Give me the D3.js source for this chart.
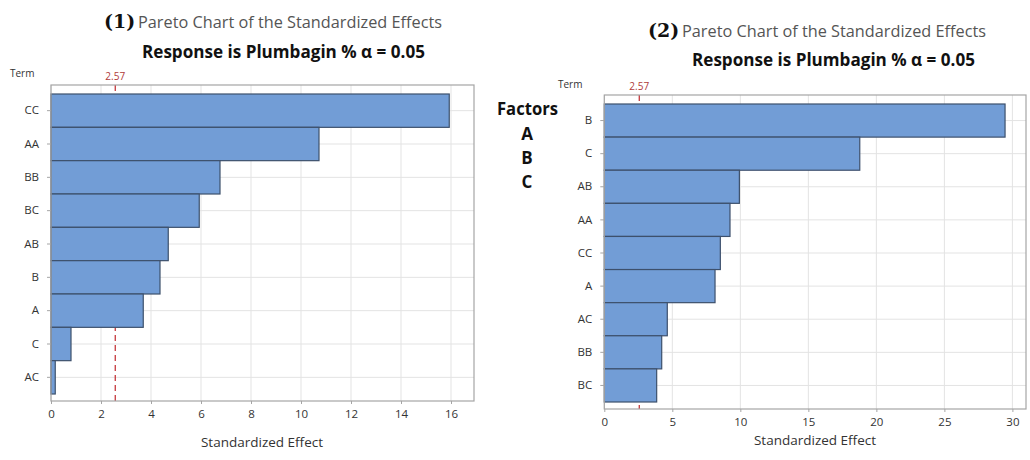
<!DOCTYPE html>
<html>
<head>
<meta charset="utf-8">
<script src="https://cdn.jsdelivr.net/npm/d3@7"></script>
<style>
  html, body { margin: 0; padding: 0; background: #fff; }
  svg { display: block; }
</style>
</head>
<body>
<svg id="chart" width="1030" height="460"></svg>
<script>
// Pareto chart (1): terms and standardized effects
const termsLeft = ["CC", "AA", "BB", "BC", "AB", "B", "A", "C", "AC"];
const effectsLeft = [15.93, 10.72, 6.76, 5.93, 4.69, 4.36, 3.69, 0.80, 0.17];
const ticksLeft = [0, 2, 4, 6, 8, 10, 12, 14, 16];

// Pareto chart (2): terms and standardized effects
const termsRight = ["B", "C", "AB", "AA", "CC", "A", "AC", "BB", "BC"];
const effectsRight = [29.46, 18.78, 9.93, 9.24, 8.53, 8.14, 4.63, 4.22, 3.85];
const ticksRight = [0, 5, 10, 15, 20, 25, 30];

// Critical t value for alpha = 0.05
const criticalValue = 2.57;
const factors = ["A", "B", "C"];

const svg = d3.select("#chart");

const BAR_FILL = "#729dd6";
const BAR_STROKE = "#3d506c";
const GRID = "#e3e3e3";
const FRAME = "#a5a5a5";
const TEXT = "#333";
const REF = "#c0282d";
const SANS = "'Open Sans', 'Noto Sans', sans-serif";

function drawPareto(opt) {
  const g = svg.append("g");
  const x = d3.scaleLinear().domain([0, opt.xMax]).range([opt.left, opt.right]);
  const y = d3.scaleBand().domain(opt.terms).range([opt.barTop, opt.barBottom]).padding(0);

  // vertical grid lines
  g.append("g").selectAll("line").data(opt.ticks).join("line")
    .attr("x1", d => x(d)).attr("x2", d => x(d))
    .attr("y1", opt.top).attr("y2", opt.bottom)
    .attr("stroke", GRID).attr("stroke-width", 1);

  // horizontal grid lines at each term
  g.append("g").selectAll("line").data(opt.terms).join("line")
    .attr("x1", opt.left).attr("x2", opt.right)
    .attr("y1", d => y(d) + y.bandwidth() / 2).attr("y2", d => y(d) + y.bandwidth() / 2)
    .attr("stroke", GRID).attr("stroke-width", 1);

  // reference line at the critical value
  g.append("line")
    .attr("x1", x(criticalValue)).attr("x2", x(criticalValue))
    .attr("y1", opt.top).attr("y2", opt.bottom)
    .attr("stroke", REF).attr("stroke-width", 1.2)
    .attr("stroke-dasharray", "6,4");

  // bars
  const rows = opt.terms.map((t, i) => ({ term: t, value: opt.values[i] }));
  g.append("g").selectAll("rect").data(rows).join("rect")
    .attr("x", x(0))
    .attr("y", d => y(d.term))
    .attr("width", d => x(d.value) - x(0))
    .attr("height", y.bandwidth())
    .attr("fill", BAR_FILL)
    .attr("stroke", BAR_STROKE)
    .attr("stroke-width", 1.2);

  // frame
  g.append("rect")
    .attr("x", opt.left).attr("y", opt.top)
    .attr("width", opt.right - opt.left).attr("height", opt.bottom - opt.top)
    .attr("fill", "none").attr("stroke", FRAME).attr("stroke-width", 1.2);

  // x axis
  const xAxis = g.append("g")
    .attr("transform", `translate(0,${opt.bottom})`)
    .call(d3.axisBottom(x).tickValues(opt.ticks).tickSize(3).tickPadding(6));
  xAxis.select(".domain").remove();
  xAxis.selectAll(".tick line").attr("stroke", FRAME);
  xAxis.selectAll("text")
    .attr("font-family", SANS).attr("font-size", 11.5).attr("fill", TEXT);

  // y axis
  const yAxis = g.append("g")
    .attr("transform", `translate(${opt.left},0)`)
    .call(d3.axisLeft(y).tickSize(4).tickPadding(8));
  yAxis.select(".domain").remove();
  yAxis.selectAll(".tick line").attr("stroke", FRAME);
  yAxis.selectAll("text")
    .attr("font-family", SANS).attr("font-size", 11.5).attr("fill", TEXT);

  // critical value label
  g.append("text")
    .attr("x", x(criticalValue)).attr("y", opt.top - 5)
    .attr("text-anchor", "middle")
    .attr("font-family", SANS).attr("font-size", 10).attr("fill", "#b03a3a")
    .text(criticalValue.toFixed(2));

  // "Term" label
  g.append("text")
    .attr("x", opt.termX).attr("y", opt.termY)
    .attr("font-family", SANS).attr("font-size", 10).attr("fill", TEXT)
    .text("Term");

  // x axis title
  g.append("text")
    .attr("x", opt.xTitleX).attr("y", opt.xTitleY)
    .attr("text-anchor", "middle")
    .attr("font-family", SANS).attr("font-size", 13.5).attr("fill", TEXT)
    .text("Standardized Effect");

  // chart title
  g.append("text")
    .attr("x", opt.titleX).attr("y", opt.titleY)
    .attr("font-family", "'DejaVu Serif', 'Liberation Serif', serif")
    .attr("font-weight", "bold").attr("font-size", 19).attr("fill", "#111")
    .text(opt.number);
  g.append("text")
    .attr("x", opt.titleX + 34).attr("y", opt.titleY)
    .attr("font-family", SANS).attr("font-size", 17).attr("fill", "#555")
    .attr("textLength", 304).attr("lengthAdjust", "spacingAndGlyphs")
    .text("Pareto Chart of the Standardized Effects");

  // subtitle
  g.append("text")
    .attr("x", opt.subX).attr("y", opt.subY)
    .attr("font-family", SANS).attr("font-weight", "bold").attr("font-size", 17)
    .attr("fill", "#111")
    .attr("textLength", 283).attr("lengthAdjust", "spacingAndGlyphs")
    .text("Response is Plumbagin % α = 0.05");
}

drawPareto({
  terms: termsLeft, values: effectsLeft, ticks: ticksLeft, xMax: 16.92,
  left: 51, right: 474, top: 85, bottom: 401, barTop: 94, barBottom: 394,
  termX: 10, termY: 77,
  xTitleX: 262, xTitleY: 447,
  number: "(1)", titleX: 104, titleY: 28,
  subX: 142, subY: 58
});

drawPareto({
  terms: termsRight, values: effectsRight, ticks: ticksRight, xMax: 31.0,
  left: 604.3, right: 1026, top: 95, bottom: 409, barTop: 104, barBottom: 402,
  termX: 558, termY: 88,
  xTitleX: 815, xTitleY: 445,
  number: "(2)", titleX: 648, titleY: 37,
  subX: 692, subY: 66
});

// factor key beside chart (2)
const key = svg.append("g");
key.append("text")
  .attr("x", 497).attr("y", 115)
  .attr("font-family", SANS).attr("font-weight", "bold").attr("font-size", 17)
  .attr("fill", "#111")
  .attr("textLength", 61).attr("lengthAdjust", "spacingAndGlyphs")
  .text("Factors");
key.selectAll("text.factor").data(factors).join("text")
  .attr("class", "factor")
  .attr("x", 527).attr("y", (d, i) => 140 + i * 24)
  .attr("text-anchor", "middle")
  .attr("font-family", SANS).attr("font-weight", "bold").attr("font-size", 17)
  .attr("fill", "#111")
  .text(d => d);
</script>
</body>
</html>
